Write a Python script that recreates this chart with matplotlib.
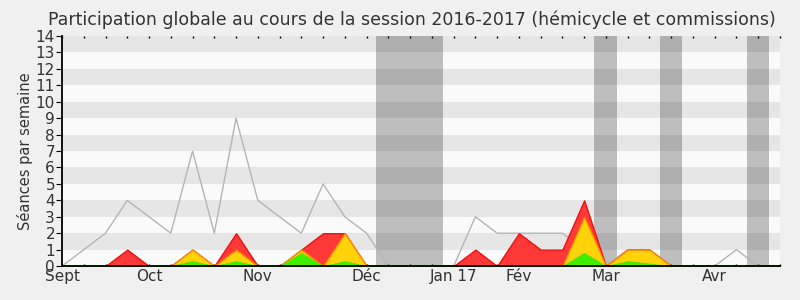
import numpy as np
import matplotlib.pyplot as plt

# weekly values, session 2016-2017 (week 0 = start of Sept)
weeks = np.arange(34)
seances = [0, 1, 2, 4, 3, 2, 7, 2, 9, 4, 3, 2, 5, 3, 2, 0, 0, 0, 0, 3, 2, 2, 2, 2, 1, 0, 1, 1, 0, 0, 0, 1, 0, 0]
presences = [0, 0, 0, 1, 0, 0, 1, 0, 2, 0, 0, 1, 2, 2, 0, 0, 0, 0, 0, 1, 0, 2, 1, 1, 4, 0, 1, 1, 0, 0, 0, 0, 0, 0]
hemicycle = [0, 0, 0, 0, 0, 0, 1, 0, 1, 0, 0, 1, 0, 2, 0, 0, 0, 0, 0, 0, 0, 0, 0, 0, 3, 0, 1, 1, 0, 0, 0, 0, 0, 0]
interventions = [0, 0, 0, 0, 0, 0, 0.3, 0, 0.3, 0, 0, 0.8, 0, 0.3, 0, 0, 0, 0, 0, 0, 0, 0, 0, 0, 0.8, 0, 0.3, 0.15, 0, 0, 0, 0, 0, 0]

# holidays, in weeks
vacances = [(14.45, 17.5), (24.45, 25.5), (27.5, 28.5), (31.5, 32.5)]

month_pos = [0, 4, 9, 14, 18, 21, 25, 30]
month_labels = ['Sept', 'Oct', 'Nov', 'Déc', 'Jan 17', 'Fév', 'Mar', 'Avr']

fig = plt.figure(figsize=(8, 3), dpi=100, facecolor='#f0f0f0')
ax = fig.add_axes([0.0775, 0.113, 0.8975, 0.767])
ax.set_facecolor('#fafafa')

# horizontal stripes
for y in range(1, 14, 2):
    ax.axhspan(y, y + 1, color='#e6e6e6', lw=0, zorder=0)

for a, b in vacances:
    ax.axvspan(a, b, color='black', alpha=0.24, lw=0, zorder=1)

ax.plot(weeks, seances, color='#b4b4b4', lw=1, zorder=2)
ax.fill_between(weeks, 0, presences, facecolor='#ff3838', edgecolor='#f01010', lw=1, zorder=3)
ax.fill_between(weeks, 0, hemicycle, facecolor='#ffd20a', edgecolor='#ff8c00', lw=1, zorder=4)
ax.fill_between(weeks, 0, interventions, facecolor='#3ef000', edgecolor='#44e400', lw=0.6, zorder=5)

ax.set_xlim(0, 33)
ax.set_ylim(0, 14)
ax.set_yticks(range(0, 15))
ax.set_xticks(month_pos)
ax.set_xticklabels(month_labels)
ax.set_xticks(weeks, minor=True)
ax.tick_params(axis='x', which='both', bottom=True, length=5, width=1, pad=2, labelsize=11,
               labelcolor='#333333')
ax.tick_params(axis='x', which='both', top=True, direction='in', length=1.5, width=1)
ax.tick_params(axis='y', length=4, pad=1, labelsize=11, labelcolor='#333333')
for spine in ['top', 'right']:
    ax.spines[spine].set_visible(False)
for spine in ['left', 'bottom']:
    ax.spines[spine].set_zorder(10)
    ax.spines[spine].set_linewidth(1.3)

ax.set_ylabel('Séances par semaine', fontsize=10.5, color='#333333', labelpad=2)
ax.set_title('Participation globale au cours de la session 2016-2017 (hémicycle et commissions)',
             fontsize=12.5, color='#333333', pad=8, x=0.487)

fig.savefig('out.png', dpi=100, facecolor=fig.get_facecolor())
